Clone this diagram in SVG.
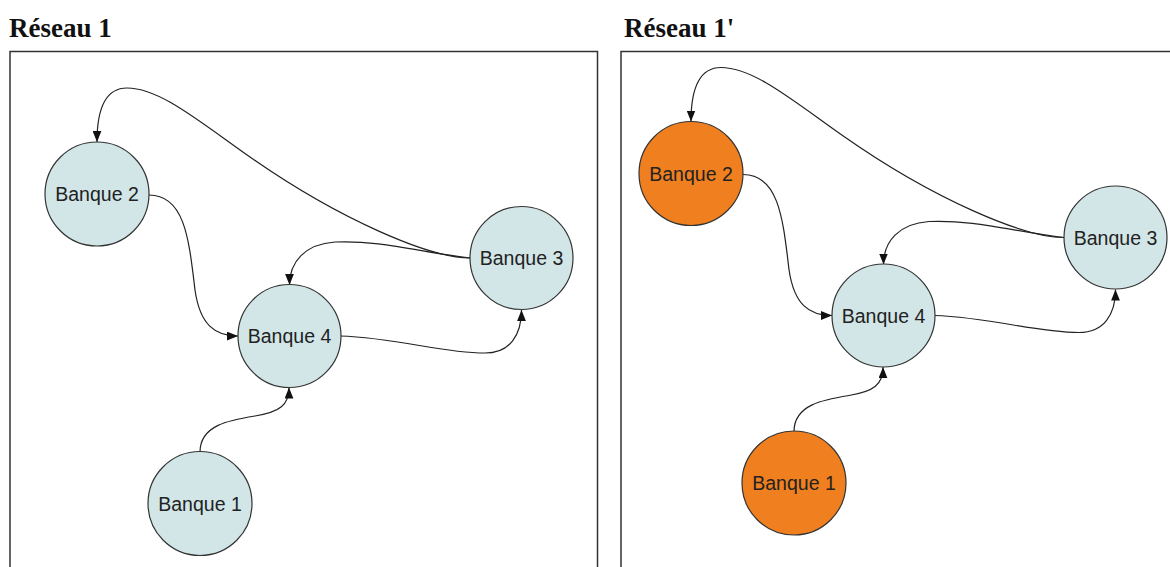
<svg xmlns="http://www.w3.org/2000/svg" width="1170" height="567" viewBox="0 0 1170 567">
<style>
.title{font-family:"Liberation Serif","Times New Roman",serif;font-weight:bold;font-size:27px;fill:#111}
.box{fill:none;stroke:#333;stroke-width:1.5}
.node circle{stroke:#333;stroke-width:1.2}
.blue circle{fill:#d2e6e8}
.orange circle{fill:#f0801f}
.node text{font-family:"Liberation Sans",Arial,sans-serif;font-size:19.5px;fill:#222;text-anchor:middle;dominant-baseline:central}
.edge{fill:none;stroke:#222;stroke-width:1.2;marker-end:url(#arr)}
</style>
<defs>
<marker id="arr" viewBox="0 0 10 8" refX="10" refY="4" markerWidth="11" markerHeight="9" markerUnits="userSpaceOnUse" orient="auto">
<path d="M0,0 L10,4 L0,8 z" fill="#111"/>
</marker>
</defs>
<rect width="1170" height="567" fill="#fff"/>
<text class="title" x="9" y="37">Réseau 1</text>
<text class="title" x="624" y="37">Réseau 1'</text>
<rect class="box" x="10" y="51.5" width="587.5" height="530"/>
<rect class="box" x="621" y="51.5" width="600" height="530"/>

<g id="connectors-left">
<path class="edge" d="M 470 258 C 430 258 340 220 250 157 C 200 122 160 88 127 88 C 104 88 97 112 97 142"/>
<path class="edge" d="M 470 258 C 420 252 380 240 335 242 C 305 244 289.5 262 289.5 285"/>
<path class="edge" d="M 149 195 C 185 195 189 240 195 290 C 200 325 215 336 238 336"/>
<path class="edge" d="M 340 336 C 400 338 440 353 485 353 C 510 353 521.5 335 521.5 310"/>
<path class="edge" d="M 200 452 C 200 425 230 420 255 416 C 280 412 289 405 289 387.5"/>
</g>
<g id="connectors-right" transform="translate(594,-20.5)">
<path class="edge" d="M 470 258 C 430 258 340 220 250 157 C 200 122 160 88 127 88 C 104 88 97 112 97 142"/>
<path class="edge" d="M 470 258 C 420 252 380 240 335 242 C 305 244 289.5 262 289.5 285"/>
<path class="edge" d="M 149 195 C 185 195 189 240 195 290 C 200 325 215 336 238 336"/>
<path class="edge" d="M 340 336 C 400 338 440 353 485 353 C 510 353 521.5 335 521.5 310"/>
<path class="edge" d="M 200 452 C 200 425 230 420 255 416 C 280 412 289 405 289 387.5"/>
</g>

<g id="l-banque2" class="node blue"><circle cx="97" cy="194" r="52"/><text x="97" y="194">Banque 2</text></g>
<g id="l-banque3" class="node blue"><circle cx="521.5" cy="258" r="51.5"/><text x="521.5" y="258">Banque 3</text></g>
<g id="l-banque4" class="node blue"><circle cx="289.5" cy="336" r="51.5"/><text x="289.5" y="336">Banque 4</text></g>
<g id="l-banque1" class="node blue"><circle cx="200" cy="503.5" r="52"/><text x="200" y="503.5">Banque 1</text></g>

<g id="r-banque2" class="node orange"><circle cx="691" cy="173.5" r="52"/><text x="691" y="173.5">Banque 2</text></g>
<g id="r-banque3" class="node blue"><circle cx="1115.5" cy="237.5" r="51.5"/><text x="1115.5" y="237.5">Banque 3</text></g>
<g id="r-banque4" class="node blue"><circle cx="883.5" cy="315.5" r="51.5"/><text x="883.5" y="315.5">Banque 4</text></g>
<g id="r-banque1" class="node orange"><circle cx="794" cy="483" r="52"/><text x="794" y="483">Banque 1</text></g>
</svg>
